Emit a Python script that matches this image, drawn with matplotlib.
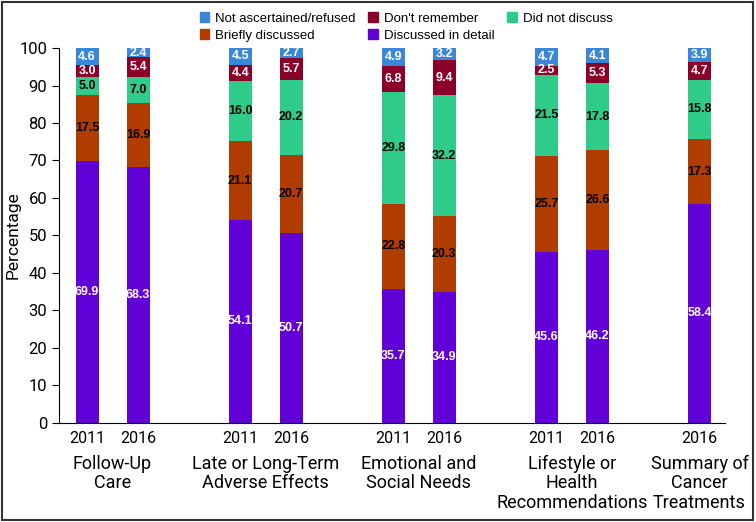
import matplotlib.pyplot as plt
from matplotlib.patches import Rectangle, Patch

# Survey data: percentage of respondents per discussion level
years = ['2011', '2016', '2011', '2016', '2011', '2016', '2011', '2016', '2016']
groups = ['Follow-Up\nCare', 'Late or Long-Term\nAdverse Effects', 'Emotional and\nSocial Needs',
          'Lifestyle or\nHealth\nRecommendations', 'Summary of\nCancer\nTreatments']
detail = [69.9, 68.3, 54.1, 50.7, 35.7, 34.9, 45.6, 46.2, 58.4]
briefly = [17.5, 16.9, 21.1, 20.7, 22.8, 20.3, 25.7, 26.6, 17.3]
not_discuss = [5.0, 7.0, 16.0, 20.2, 29.8, 32.2, 21.5, 17.8, 15.8]
dont_remember = [3.0, 5.4, 4.4, 5.7, 6.8, 9.4, 2.5, 5.3, 4.7]
not_ascertained = [4.6, 2.4, 4.5, 2.7, 4.9, 3.2, 4.7, 4.1, 3.9]

xpos = [0, 1, 3, 4, 6, 7, 9, 10, 12]
group_pos = [0.5, 3.5, 6.5, 9.5, 12]

series = [
    ('Discussed in detail', detail, '#6200d8', 'white'),
    ('Briefly discussed', briefly, '#b03c00', 'black'),
    ('Did not discuss', not_discuss, '#2ecc88', 'black'),
    ("Don't remember", dont_remember, '#8a0028', 'white'),
    ('Not ascertained/refused', not_ascertained, '#3a86d8', 'white'),
]

narrow = ['Roboto', 'DejaVu Sans']
plt.rcParams['font.family'] = ['Liberation Sans', 'DejaVu Sans']

fig = plt.figure(figsize=(7.56, 5.22), dpi=100)
ax = fig.add_axes([0.078, 0.19, 0.881, 0.718])

bottom = [0.0] * len(xpos)
colors = {}
for name, vals, col, tcol in series:
    ax.bar(xpos, vals, width=0.45, bottom=bottom, color=col)
    colors[name] = col
    for x, b, v in zip(xpos, bottom, vals):
        ax.text(x, b + v / 2, f'{v:.1f}', ha='center', va='center',
                fontsize=9, fontweight='bold', color=tcol)
    bottom = [b + v for b, v in zip(bottom, vals)]

ax.set_xlim(-0.55, 12.5)
ax.set_ylim(0, 100)
ax.set_yticks(range(0, 101, 10))
ax.set_xticks(xpos)
ax.set_xticklabels(years, family=narrow, fontsize=11.5)
ax.tick_params(axis='y', labelsize=12, length=5)
ax.tick_params(axis='x', length=0, pad=6)
for lbl in ax.get_yticklabels():
    lbl.set_family(narrow)
ax.spines['top'].set_visible(False)
ax.spines['right'].set_visible(False)
ax.set_ylabel('Percentage', family=narrow, fontsize=12.5)
ax.yaxis.set_label_coords(-0.058, 0.5)

for gx, g in zip(group_pos, groups):
    ax.text(gx, -8.5, g, ha='center', va='top', family=narrow, fontsize=13,
            linespacing=1.1)

order = ['Not ascertained/refused', 'Briefly discussed', "Don't remember",
         'Discussed in detail', 'Did not discuss']
handles = [Patch(color=colors[n], label=n) for n in order]
fig.legend(handles=handles, ncol=3, loc='center', bbox_to_anchor=(0.537, 0.948),
           frameon=False, fontsize=9.5, handlelength=0.75, handleheight=0.75,
           handletextpad=0.4, columnspacing=1.0, labelspacing=0.35)

fig.patches.append(Rectangle((0.002, 0.004), 0.994, 0.992, transform=fig.transFigure,
                             fill=False, edgecolor='#333333', linewidth=1.5))

fig.savefig('out.png', dpi=100)
